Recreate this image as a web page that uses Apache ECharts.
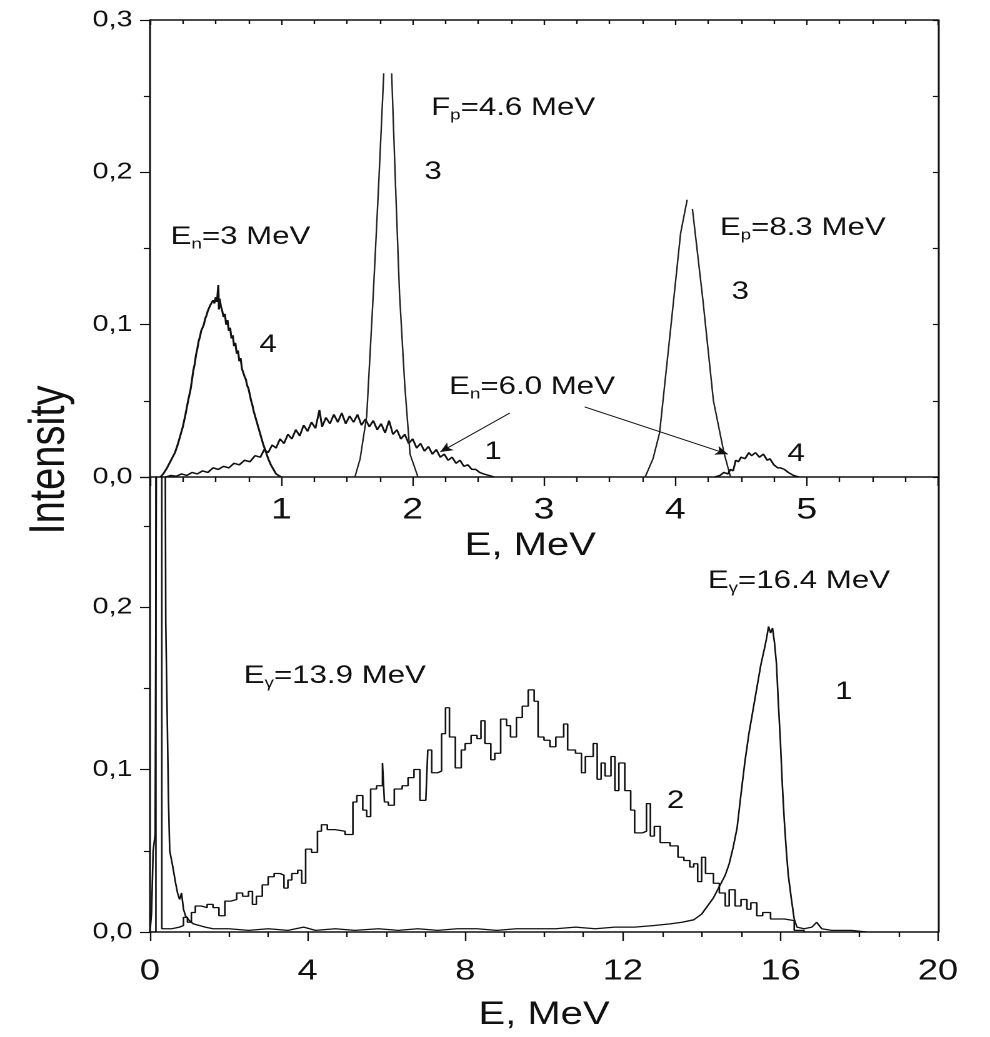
<!DOCTYPE html>
<html>
<head>
<meta charset="utf-8">
<title>Intensity spectra</title>
<script src="https://cdn.jsdelivr.net/npm/echarts@6/dist/echarts.min.js"></script>
<style>
html, body { margin: 0; padding: 0; background: #fff; overflow: hidden; }
/* the original figure is stretched sideways, so the chart is drawn narrower and widened */
#chart { width: 792px; height: 1037px; transform: scaleX(1.25); transform-origin: 0 0; }
</style>
</head>
<body>
<div id="chart"></div>
<script>
const FONT = "'Liberation Sans', Arial, Helvetica, sans-serif"
const INK = '#111'

// tick labels
const topXTicks = [1, 2, 3, 4, 5]
const topXLabels = ['1', '2', '3', '4', '5']
const topYTicks = [0, 0.1, 0.2, 0.3]
const topYLabels = ['0,0', '0,1', '0,2', '0,3']
const botXTicks = [0, 4, 8, 12, 16, 20]
const botXLabels = ['0', '4', '8', '12', '16', '20']
const botYTicks = [0, 0.1, 0.2]
const botYLabels = ['0,0', '0,1', '0,2']

// upper panel: [E, intensity]
const neutron3 = [
  [0.08, 0], [0.10, 0.002], [0.13, 0.006], [0.16, 0.011], [0.19, 0.016], [0.21, 0.021],
  [0.23, 0.027], [0.25, 0.033], [0.27, 0.041], [0.29, 0.05], [0.31, 0.058], [0.32, 0.064],
  [0.33, 0.07], [0.34, 0.074], [0.35, 0.08], [0.36, 0.084], [0.37, 0.089], [0.38, 0.092],
  [0.39, 0.096], [0.40, 0.098], [0.41, 0.1], [0.42, 0.104], [0.43, 0.106], [0.44, 0.109],
  [0.45, 0.111], [0.46, 0.113], [0.47, 0.112], [0.48, 0.116], [0.49, 0.114], [0.50, 0.118],
  [0.51, 0.115], [0.52, 0.126], [0.525, 0.11], [0.53, 0.117], [0.54, 0.112], [0.55, 0.109],
  [0.56, 0.105], [0.57, 0.107], [0.58, 0.1], [0.59, 0.103], [0.60, 0.096], [0.61, 0.098],
  [0.62, 0.091], [0.63, 0.093], [0.64, 0.086], [0.65, 0.088], [0.66, 0.081], [0.67, 0.083],
  [0.68, 0.076], [0.69, 0.078], [0.70, 0.071], [0.71, 0.072], [0.72, 0.066], [0.73, 0.064],
  [0.74, 0.06], [0.75, 0.058], [0.76, 0.054], [0.77, 0.05], [0.78, 0.047], [0.79, 0.043],
  [0.80, 0.04], [0.82, 0.034], [0.84, 0.028], [0.86, 0.022], [0.88, 0.017], [0.90, 0.012],
  [0.92, 0.008], [0.94, 0.005], [0.96, 0.002], [0.98, 0.001], [1.0, 0]
]
const neutron6 = [
  [0.12, 0], [0.16, 0.001], [0.2, 0.0005], [0.24, 0.002], [0.28, 0.001], [0.32, 0.003],
  [0.36, 0.002], [0.4, 0.004], [0.44, 0.003], [0.48, 0.006], [0.52, 0.005], [0.56, 0.007],
  [0.6, 0.006], [0.64, 0.009], [0.68, 0.008], [0.72, 0.011], [0.76, 0.01], [0.8, 0.014],
  [0.84, 0.013], [0.87, 0.018], [0.9, 0.016], [0.93, 0.021], [0.96, 0.019], [0.99, 0.025],
  [1.02, 0.022], [1.05, 0.028], [1.08, 0.025], [1.11, 0.031], [1.14, 0.027], [1.17, 0.034],
  [1.2, 0.03], [1.23, 0.036], [1.26, 0.032], [1.29, 0.044], [1.31, 0.033], [1.34, 0.039],
  [1.37, 0.035], [1.4, 0.041], [1.43, 0.036], [1.46, 0.042], [1.49, 0.035], [1.52, 0.04],
  [1.55, 0.036], [1.58, 0.041], [1.61, 0.034], [1.64, 0.038], [1.67, 0.033], [1.7, 0.037],
  [1.73, 0.031], [1.76, 0.035], [1.79, 0.029], [1.82, 0.037], [1.85, 0.028], [1.88, 0.031],
  [1.91, 0.025], [1.94, 0.028], [1.97, 0.022], [2.0, 0.025], [2.03, 0.019], [2.06, 0.022],
  [2.09, 0.017], [2.12, 0.02], [2.15, 0.015], [2.18, 0.018], [2.21, 0.013], [2.24, 0.015],
  [2.27, 0.011], [2.3, 0.013], [2.33, 0.009], [2.36, 0.011], [2.39, 0.007], [2.42, 0.008],
  [2.45, 0.005], [2.48, 0.005], [2.51, 0.003], [2.54, 0.002], [2.58, 0.001], [2.62, 0]
]
const proton46 = [
  [1.56, 0], [1.6, 0.012], [1.65, 0.04], [1.7, 0.12], [1.74, 0.19], [1.78, 0.265],
  [1.81, '-'],
  [1.84, 0.265], [1.87, 0.19], [1.9, 0.12], [1.94, 0.06], [1.98, 0.015], [2.04, 0]
]
const proton83 = [
  [3.77, 0], [3.83, 0.012], [3.88, 0.029], [3.96, 0.094], [4.04, 0.16], [4.09, 0.182],
  [4.1, '-'],
  [4.13, 0.176], [4.21, 0.116], [4.29, 0.05], [4.37, 0.016], [4.42, 0]
]
const neutron6tail = [
  [4.3, 0], [4.34, 0.001], [4.37, 0.003], [4.4, 0.002], [4.42, 0.005], [4.44, 0.004],
  [4.46, 0.011], [4.48, 0.01], [4.5, 0.013], [4.53, 0.012], [4.56, 0.016], [4.58, 0.014],
  [4.61, 0.016], [4.64, 0.013], [4.67, 0.015], [4.7, 0.011], [4.72, 0.012], [4.75, 0.008],
  [4.78, 0.006], [4.8, 0.006], [4.83, 0.005], [4.86, 0.003], [4.9, 0.001], [4.94, 0]
]

// lower panel: [E, intensity]
const gamma164 = [
  [0, 0], [0.04, 0.012], [0.08, 0.05], [0.13, 0.06], [0.17, 0.35], [0.38, 0.35], [0.4, 0.19],
  [0.46, 0.19], [0.47, 0.08], [0.5, 0.05], [0.58, 0.04], [0.65, 0.03], [0.7, 0.024],
  [0.75, 0.02], [0.8, 0.024], [0.85, 0.014], [0.9, 0.01], [1.0, 0.007], [1.1, 0.005],
  [1.25, 0.004], [1.4, 0.003], [1.6, 0.002], [2.0, 0.002], [2.5, 0.001], [3.0, 0.002],
  [3.5, 0.001], [3.9, 0.003], [4.2, 0.001], [4.7, 0.002], [5.2, 0.001], [5.8, 0.002],
  [6.3, 0.001], [6.8, 0.002], [7.3, 0.001], [7.8, 0.002], [8.3, 0.002], [8.8, 0.001],
  [9.3, 0.002], [9.8, 0.002], [10.3, 0.002], [10.8, 0.003], [11.3, 0.002], [11.8, 0.003],
  [12.3, 0.003], [12.8, 0.004], [13.2, 0.005], [13.5, 0.006], [13.8, 0.0075], [14.0, 0.011],
  [14.15, 0.016], [14.3, 0.021], [14.45, 0.028], [14.6, 0.035], [14.7, 0.042], [14.8, 0.052],
  [14.9, 0.064], [15.0, 0.085], [15.1, 0.105], [15.2, 0.122], [15.3, 0.136], [15.4, 0.15],
  [15.5, 0.164], [15.6, 0.175], [15.65, 0.181], [15.7, 0.188], [15.75, 0.184], [15.8, 0.187],
  [15.85, 0.178], [15.9, 0.165], [15.95, 0.14], [16.0, 0.117], [16.05, 0.09], [16.1, 0.068],
  [16.15, 0.05], [16.2, 0.035], [16.28, 0.02], [16.35, 0.008], [16.42, 0.003], [16.6, 0.002],
  [16.8, 0.003], [16.92, 0.006], [17.05, 0.002], [17.3, 0.001], [17.8, 0.001], [18.2, 0]
]
const gamma139 = [
  [0.0, 0.0], [0.15, 0.35], [0.3, 0.002], [0.55, 0.003], [0.75, 0.004], [0.85, 0.009],
  [0.95, 0.006], [1.05, 0.012], [1.15, 0.016], [1.3, 0.015], [1.45, 0.017], [1.6, 0.015],
  [1.75, 0.01], [1.9, 0.019], [2.05, 0.02], [2.2, 0.024], [2.35, 0.022], [2.5, 0.025],
  [2.6, 0.017], [2.7, 0.022], [2.85, 0.029], [3.0, 0.034], [3.15, 0.036], [3.3, 0.035],
  [3.4, 0.027], [3.5, 0.032], [3.6, 0.036], [3.75, 0.038], [3.85, 0.03], [3.95, 0.051],
  [4.1, 0.049], [4.25, 0.062], [4.35, 0.066], [4.5, 0.063], [4.7, 0.062], [4.95, 0.06],
  [5.15, 0.08], [5.25, 0.084], [5.4, 0.075], [5.5, 0.071], [5.6, 0.088], [5.75, 0.09],
  [5.9, 0.104], [5.95, 0.08], [6.05, 0.078], [6.2, 0.088], [6.4, 0.09], [6.55, 0.095],
  [6.7, 0.1], [6.85, 0.081], [7.0, 0.081], [7.05, 0.112], [7.15, 0.098], [7.3, 0.099],
  [7.4, 0.122], [7.5, 0.138], [7.6, 0.12], [7.75, 0.101], [7.9, 0.112], [8.0, 0.116],
  [8.15, 0.121], [8.3, 0.119], [8.4, 0.13], [8.5, 0.116], [8.65, 0.106], [8.75, 0.11],
  [8.9, 0.131], [9.05, 0.127], [9.15, 0.12], [9.3, 0.132], [9.45, 0.139], [9.6, 0.149],
  [9.75, 0.142], [9.85, 0.12], [10.0, 0.118], [10.15, 0.114], [10.3, 0.12], [10.5, 0.128],
  [10.6, 0.112], [10.8, 0.11], [10.95, 0.098], [11.05, 0.108], [11.25, 0.116], [11.35, 0.094],
  [11.45, 0.104], [11.55, 0.096], [11.7, 0.108], [11.8, 0.087], [11.9, 0.104], [12.05, 0.087],
  [12.2, 0.075], [12.3, 0.061], [12.5, 0.062], [12.6, 0.079], [12.7, 0.059], [12.8, 0.065],
  [12.95, 0.055], [13.2, 0.053], [13.4, 0.046], [13.55, 0.044], [13.7, 0.04], [13.8, 0.042],
  [13.9, 0.031], [14.0, 0.046], [14.1, 0.036], [14.3, 0.03], [14.45, 0.024], [14.6, 0.016],
  [14.7, 0.026], [14.85, 0.016], [15.0, 0.02], [15.15, 0.014], [15.25, 0.018], [15.4, 0.01],
  [15.55, 0.012], [15.75, 0.008], [16.1, 0.007], [16.35, 0.001], [16.6, 0.0]
]

function pick (ticks, labels) {
  return function (value) {
    const i = ticks.findIndex(t => Math.abs(t - value) < 1e-6)
    return i >= 0 ? labels[i] : ''
  }
}

const RICH = {
  m: { fontFamily: FONT, fontSize: 25, color: INK, lineHeight: 30 },
  s: { fontFamily: FONT, fontSize: 15, color: INK, lineHeight: 8, verticalAlign: 'bottom' }
}

function notes (items) {
  return {
    silent: true,
    symbol: 'circle',
    symbolSize: 1,
    itemStyle: { color: 'rgba(0,0,0,0)' },
    label: { show: true, position: 'inside', color: INK, rich: RICH },
    data: items.map(n => ({ coord: n[0], label: { formatter: n[1] } }))
  }
}

const axisLine = { show: true, onZero: false, lineStyle: { color: INK, width: 1.5 } }
const tickStyle = { color: INK, width: 1.2 }

function bottomX (grid, max, interval, split, ticks, labels, fontSize, margin, nameGap, namePad) {
  return {
    type: 'value', gridIndex: grid, position: 'bottom', min: 0, max: max, interval: interval,
    axisLine: axisLine,
    axisTick: { show: true, length: 9, lineStyle: tickStyle },
    minorTick: { show: true, splitNumber: split, length: 5, lineStyle: tickStyle },
    axisLabel: { formatter: pick(ticks, labels), fontFamily: FONT, fontSize: fontSize, color: INK, margin: margin },
    splitLine: { show: false },
    name: 'E, MeV',
    nameLocation: 'middle',
    nameGap: nameGap,
    nameTextStyle: { fontFamily: FONT, fontSize: 32, color: INK, padding: namePad }
  }
}

function leftY (grid, max, ticks, labels) {
  return {
    type: 'value', gridIndex: grid, position: 'left', min: 0, max: max, interval: 0.1,
    axisLine: axisLine,
    axisTick: { show: true, length: 8, lineStyle: tickStyle },
    minorTick: { show: true, splitNumber: 2, length: 5, lineStyle: tickStyle },
    axisLabel: { formatter: pick(ticks, labels), fontFamily: FONT, fontSize: 23, color: INK, margin: 14 },
    splitLine: { show: false }
  }
}

const option = {
  animation: false,
  backgroundColor: '#fff',
  grid: [
    { left: 120, right: 41.6, top: 20, height: 457 },
    { left: 120, right: 41.6, top: 477, bottom: 105 }
  ],
  xAxis: [
    bottomX(0, 6, 1, 4, topXTicks, topXLabels, 30, 18, 53, [0, 22, 0, 0]),
    {
      type: 'value', gridIndex: 0, position: 'top', min: 0, max: 6, interval: 1,
      axisLine: axisLine,
      axisTick: { show: true, inside: true, length: 5, lineStyle: tickStyle },
      minorTick: { show: true, splitNumber: 4, length: 4, lineStyle: tickStyle },
      axisLabel: { show: false },
      splitLine: { show: false }
    },
    bottomX(1, 20, 4, 4, botXTicks, botXLabels, 29, 25, 67, [0, 0, 0, 0])
  ],
  yAxis: [
    leftY(0, 0.3, topYTicks, topYLabels),
    {
      type: 'value', gridIndex: 0, position: 'right', min: 0, max: 0.3, interval: 0.1,
      axisLine: axisLine,
      axisTick: { show: true, inside: true, length: 4, lineStyle: tickStyle },
      minorTick: { show: true, splitNumber: 2, length: 4, lineStyle: tickStyle },
      axisLabel: { show: false },
      splitLine: { show: false }
    },
    leftY(1, 0.28, botYTicks, botYLabels),
    {
      type: 'value', gridIndex: 1, position: 'right', min: 0, max: 0.28,
      axisLine: axisLine,
      axisTick: { show: false },
      axisLabel: { show: false },
      splitLine: { show: false }
    }
  ],
  graphic: [{
    type: 'text',
    x: 40,
    y: 460,
    rotation: Math.PI / 2,
    style: { text: 'Intensity', fontFamily: FONT, fontSize: 40, fill: INK, align: 'center', verticalAlign: 'middle' }
  }],
  series: [
    {
      name: 'En=3 MeV', type: 'line', xAxisIndex: 0, yAxisIndex: 0, data: neutron3,
      symbol: 'none', lineStyle: { color: INK, width: 1.6 },
      markPoint: notes([
        [[0.689, 0.1576], '{m|E}{s|n}{m|=3 MeV}'],
        [[2.765, 0.2423], '{m|F}{s|p}{m|=4.6 MeV}'],
        [[2.155, 0.2003], '{m|3}'],
        [[4.97, 0.1635], '{m|E}{s|p}{m|=8.3 MeV}'],
        [[4.494, 0.1215], '{m|3}'],
        [[0.899, 0.0867], '{m|4}'],
        [[2.909, 0.0591], '{m|E}{s|n}{m|=6.0 MeV}'],
        [[2.612, 0.0164], '{m|1}'],
        [[4.92, 0.0151], '{m|4}']
      ])
    },
    {
      name: 'En=6.0 MeV', type: 'line', xAxisIndex: 0, yAxisIndex: 0, data: neutron6,
      symbol: 'none', lineStyle: { color: INK, width: 1.5 },
      markLine: {
        silent: true,
        symbol: ['none', 'arrow'],
        symbolSize: [7, 10],
        label: { show: false },
        lineStyle: { color: INK, width: 1, type: 'solid' },
        data: [
          [{ coord: [2.74, 0.042] }, { coord: [2.21, 0.0164] }],
          [{ coord: [3.31, 0.046] }, { coord: [4.40, 0.015] }]
        ]
      }
    },
    {
      name: 'Ep=4.6 MeV', type: 'line', xAxisIndex: 0, yAxisIndex: 0, data: proton46,
      symbol: 'none', connectNulls: false, lineStyle: { color: '#222', width: 1.2 }
    },
    {
      name: 'Ep=8.3 MeV', type: 'line', xAxisIndex: 0, yAxisIndex: 0, data: proton83,
      symbol: 'none', connectNulls: false, lineStyle: { color: '#222', width: 1.2 }
    },
    {
      name: 'En=6.0 MeV tail', type: 'line', xAxisIndex: 0, yAxisIndex: 0, data: neutron6tail,
      symbol: 'none', lineStyle: { color: INK, width: 1.5 }
    },
    {
      name: 'Eγ=16.4 MeV', type: 'line', xAxisIndex: 2, yAxisIndex: 2, data: gamma164,
      symbol: 'none', clip: true, lineStyle: { color: INK, width: 1.3 },
      markPoint: notes([
        [[4.69, 0.1575], '{m|E}{s|γ}{m|=13.9 MeV}'],
        [[16.47, 0.216], '{m|E}{s|γ}{m|=16.4 MeV}'],
        [[17.61, 0.1477], '{m|1}'],
        [[13.34, 0.0806], '{m|2}']
      ])
    },
    {
      name: 'Eγ=13.9 MeV', type: 'line', xAxisIndex: 2, yAxisIndex: 2, data: gamma139,
      symbol: 'none', step: 'end', clip: true, lineStyle: { color: INK, width: 1.3 }
    }
  ]
}

const chart = echarts.init(document.getElementById('chart'), null, { devicePixelRatio: 2 })
chart.setOption(option)
</script>
</body>
</html>
